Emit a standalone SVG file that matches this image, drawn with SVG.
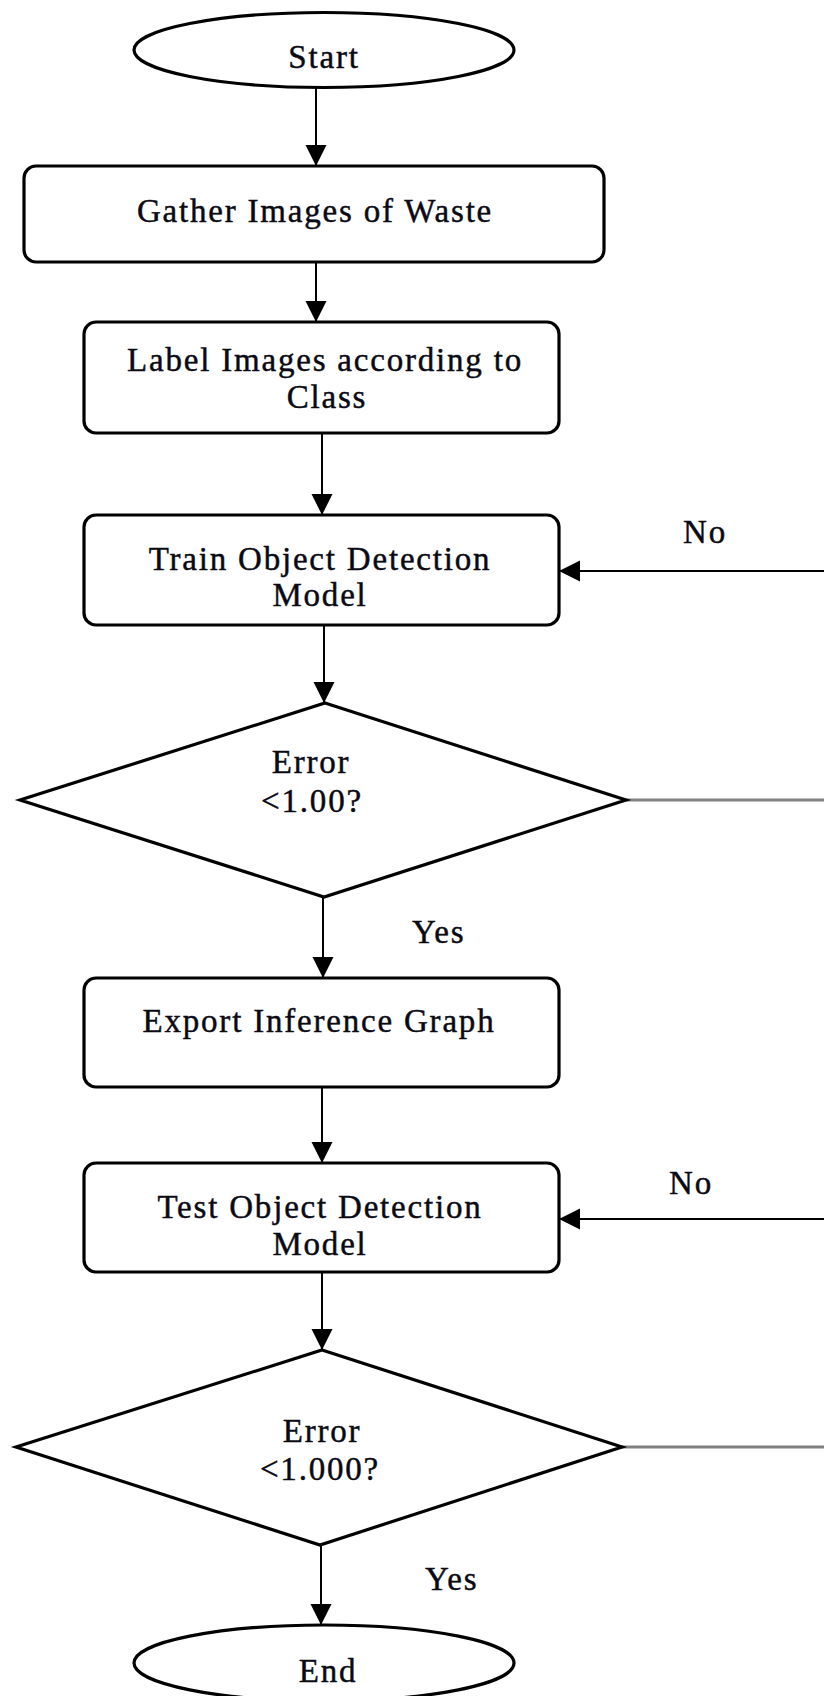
<svg xmlns="http://www.w3.org/2000/svg" width="824" height="1696" viewBox="0 0 824 1696">
<style>
.node{fill:#fff;stroke:#000;stroke-width:3.2}
.t{font-family:"Liberation Serif","Times New Roman",serif;font-size:33px;letter-spacing:1.8px;fill:#0a0a14;stroke:#0a0a14;stroke-width:0.45;text-anchor:middle}
.l{font-family:"Liberation Serif","Times New Roman",serif;font-size:33px;letter-spacing:1.8px;fill:#0a0a14;stroke:#0a0a14;stroke-width:0.45}
.c{fill:none;stroke:#000;stroke-width:2}
.g{fill:none;stroke:#808080;stroke-width:3}
</style>
<defs>
<marker id="ah" markerUnits="userSpaceOnUse" markerWidth="22" markerHeight="22" refX="21" refY="10.5" orient="auto">
<path d="M0,0 L21,10.5 L0,21 Z" fill="#000"/>
</marker>
</defs>
<rect width="824" height="1696" fill="#fff"/>
<g id="connectors">
<line class="c" x1="316" y1="87" x2="316" y2="166" marker-end="url(#ah)"/>
<line class="c" x1="316" y1="262" x2="316" y2="322" marker-end="url(#ah)"/>
<line class="c" x1="322" y1="433" x2="322" y2="515" marker-end="url(#ah)"/>
<line class="c" x1="324" y1="625" x2="324" y2="703" marker-end="url(#ah)"/>
<line class="c" x1="323" y1="897" x2="323" y2="978" marker-end="url(#ah)"/>
<line class="c" x1="322" y1="1087" x2="322" y2="1163" marker-end="url(#ah)"/>
<line class="c" x1="322" y1="1272" x2="322" y2="1350" marker-end="url(#ah)"/>
<line class="c" x1="321" y1="1545" x2="321" y2="1625" marker-end="url(#ah)"/>
<line class="g" x1="626" y1="800" x2="824" y2="800"/>
<line class="c" x1="824" y1="571" x2="559" y2="571" marker-end="url(#ah)"/>
<line class="g" x1="622" y1="1447" x2="824" y2="1447"/>
<line class="c" x1="824" y1="1219" x2="559" y2="1219" marker-end="url(#ah)"/>
<text class="l" x="683" y="543">No</text>
<text class="l" x="412" y="943">Yes</text>
<text class="l" x="669" y="1194">No</text>
<text class="l" x="425" y="1590">Yes</text>
</g>
<g id="start">
<ellipse class="node" cx="324" cy="50" rx="190" ry="37.5"/>
<text class="t" x="324" y="68">Start</text>
</g>
<g id="gather">
<rect class="node" x="24" y="166" width="580" height="96" rx="12"/>
<text class="t" x="315" y="222">Gather Images of Waste</text>
</g>
<g id="label">
<rect class="node" x="84" y="322" width="475" height="111" rx="12"/>
<text class="t" x="325" y="371">Label Images according to</text>
<text class="t" x="327" y="408">Class</text>
</g>
<g id="train">
<rect class="node" x="84" y="515" width="475" height="110" rx="12"/>
<text class="t" x="320" y="570">Train Object Detection</text>
<text class="t" x="320" y="606">Model</text>
</g>
<g id="decision1">
<polygon class="node" points="325,703 626,800 324,897 20,800"/>
<text class="t" x="311" y="773">Error</text>
<text class="t" x="312" y="812">&lt;1.00?</text>
</g>
<g id="export">
<rect class="node" x="84" y="978" width="475" height="109" rx="12"/>
<text class="t" x="319" y="1032">Export Inference Graph</text>
</g>
<g id="test">
<rect class="node" x="84" y="1163" width="475" height="109" rx="12"/>
<text class="t" x="320" y="1218">Test Object Detection</text>
<text class="t" x="320" y="1255">Model</text>
</g>
<g id="decision2">
<polygon class="node" points="322,1350 622,1447 320,1545 16,1447"/>
<text class="t" x="322" y="1442">Error</text>
<text class="t" x="320" y="1480">&lt;1.000?</text>
</g>
<g id="end">
<ellipse class="node" cx="324" cy="1663" rx="190" ry="38"/>
<text class="t" x="328" y="1682">End</text>
</g>
</svg>
